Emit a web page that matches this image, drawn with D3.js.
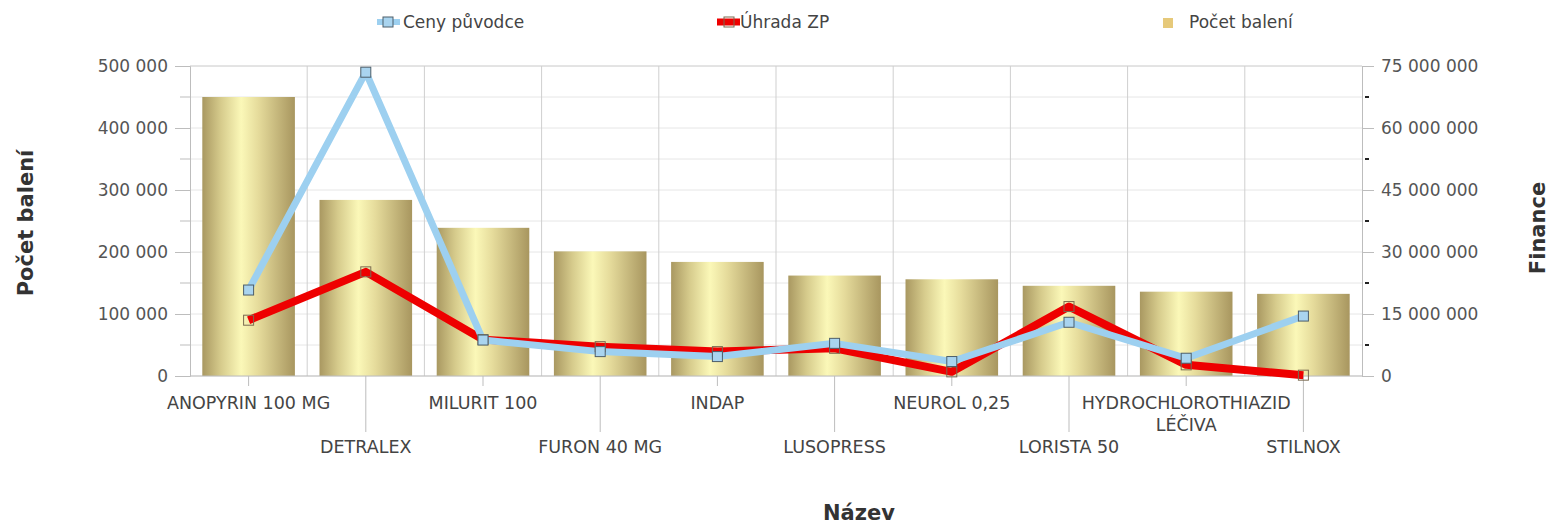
<!DOCTYPE html>
<html><head><meta charset="utf-8">
<script src="https://cdn.jsdelivr.net/npm/d3@7"></script>
<style>html,body{margin:0;padding:0;background:#fff;overflow:hidden}svg{display:block}text{font-family:"DejaVu Sans",sans-serif}</style>
</head><body><svg id="c" width="1551" height="526"></svg>
<script>
const categories = ["ANOPYRIN 100 MG","DETRALEX","MILURIT 100","FURON 40 MG","INDAP","LUSOPRESS","NEUROL 0,25","LORISTA 50","HYDROCHLOROTHIAZID LÉČIVA","STILNOX"];
const pocetBaleni = [450000,284000,239000,201000,184000,162000,156000,145500,136000,132500];
const cenyPuvodce = [20800000,73500000,8700000,5900000,4700000,7900000,3500000,13000000,4300000,14500000];
const uhradaZP = [13500000,25200000,8800000,7100000,5900000,6700000,1000000,16800000,2700000,200000];
const leftTicks = [0,100000,200000,300000,400000,500000];
const rightTicks = [0,15000000,30000000,45000000,60000000,75000000];
const seriesNames = ["Ceny původce","Úhrada ZP","Počet balení"];

const svg = d3.select("#c");
const L=190,R=1362,T=66,B=376;
const FS = 17, FX = 17.5;
const x = d3.scaleBand().domain(categories).range([L,R]).paddingInner(0.21).paddingOuter(0.105);
const xc = d => x(d)+x.bandwidth()/2;
const yL = d3.scaleLinear().domain([0,500000]).range([B,T]);
const yR = d3.scaleLinear().domain([0,75000000]).range([B,T]);
const fmt = v => d3.format(",")(v).replace(/,/g," ");

// gradient
const defs = svg.append("defs");
const g = defs.append("linearGradient").attr("id","gold").attr("x1","0").attr("x2","1").attr("y1","0").attr("y2","0");
[[0,"#a99861"],[0.2,"#d6cb8c"],[0.42,"#fbf8b8"],[0.6,"#e6dc9c"],[1,"#a8965f"]].forEach(s=>g.append("stop").attr("offset",s[0]).attr("stop-color",s[1]));

// horizontal gridlines (every 50 000)
const minor = d3.range(0,500001,50000);
svg.append("g").selectAll("line").data(minor).join("line")
  .attr("x1",L).attr("x2",R).attr("y1",d=>yL(d)).attr("y2",d=>yL(d))
  .attr("stroke",d=>d===500000?"#c8c8c8":"#e6e6e6").attr("stroke-width",1);
// vertical gridlines between categories
const step = x.step();
svg.append("g").selectAll("line").data(categories.slice(1)).join("line")
  .attr("x1",d=>x(d)-x.paddingInner()*step/2).attr("x2",d=>x(d)-x.paddingInner()*step/2)
  .attr("y1",T).attr("y2",B).attr("stroke","#cfcfcf");

// bars
svg.append("g").selectAll("rect").data(categories).join("rect")
  .attr("x",d=>x(d)).attr("width",x.bandwidth())
  .attr("y",(d,i)=>yL(pocetBaleni[i])).attr("height",(d,i)=>B-yL(pocetBaleni[i]))
  .attr("fill","url(#gold)");

// left axis
const la = svg.append("g").attr("transform",`translate(${L},0)`)
  .call(d3.axisLeft(yL).tickValues(leftTicks).tickFormat(fmt).tickSize(15).tickPadding(7));
la.select(".domain").attr("stroke","#bdbdbd");
la.selectAll(".tick line").attr("stroke","#bdbdbd");
la.selectAll("text").attr("fill","#555").attr("font-size",FS).attr("font-family","DejaVu Sans");
svg.append("g").selectAll("line").data(minor.filter(v=>v%100000)).join("line")
  .attr("x1",L-10).attr("x2",L).attr("y1",d=>yL(d)).attr("y2",d=>yL(d)).attr("stroke","#bdbdbd");

// right axis
const ra = svg.append("g").attr("transform",`translate(${R},0)`)
  .call(d3.axisRight(yR).tickValues(rightTicks).tickFormat(fmt).tickSize(12).tickPadding(7));
ra.select(".domain").attr("stroke","#bdbdbd");
ra.selectAll(".tick line").attr("stroke","#bdbdbd");
ra.selectAll("text").attr("fill","#555").attr("font-size",FS).attr("font-family","DejaVu Sans");
svg.append("g").selectAll("line").data(d3.range(7500000,75000000,15000000)).join("line")
  .attr("x1",R+3).attr("x2",R+7).attr("y1",d=>yR(d)).attr("y2",d=>yR(d)).attr("stroke","#222").attr("stroke-width",2);

// bottom axis line
svg.append("line").attr("x1",L).attr("x2",R).attr("y1",B).attr("y2",B).attr("stroke","#bdbdbd");

// x ticks & labels (staggered)
const xg = svg.append("g");
categories.forEach((c,i)=>{
  const cx = xc(c);
  const low = i%2===1;
  xg.append("line").attr("x1",cx).attr("x2",cx).attr("y1",B).attr("y2",low?432:386).attr("stroke","#bdbdbd");
  const t = xg.append("text").attr("x",cx).attr("text-anchor","middle").attr("fill","#444").attr("font-size",FX);
  const parts = c==="HYDROCHLOROTHIAZID LÉČIVA" ? ["HYDROCHLOROTHIAZID","LÉČIVA"] : [c];
  parts.forEach((p,k)=>t.append("tspan").attr("x",cx).attr("y",(low?453:409)+k*22).text(p));
});

// lines
const line = () => d3.line().x((d,i)=>xc(categories[i])).y(d=>yR(d));
svg.append("path").datum(uhradaZP).attr("d",line()).attr("fill","none").attr("stroke","#ee0000").attr("stroke-width",8).attr("stroke-linejoin","round");
svg.append("path").datum(cenyPuvodce).attr("d",line()).attr("fill","none").attr("stroke","#9dd0f0").attr("stroke-width",7).attr("stroke-linejoin","round");
svg.append("g").selectAll("rect").data(uhradaZP).join("rect")
  .attr("x",(d,i)=>xc(categories[i])-5).attr("y",d=>yR(d)-5).attr("width",10).attr("height",10)
  .attr("fill","none").attr("stroke","#7a6a50").attr("stroke-width",1);
svg.append("g").selectAll("rect").data(cenyPuvodce).join("rect")
  .attr("x",(d,i)=>xc(categories[i])-5).attr("y",d=>yR(d)-5).attr("width",10).attr("height",10)
  .attr("fill","#a9d4ef").attr("stroke","#4d5e6a").attr("stroke-width",1);

// legend
const lg = svg.append("g").attr("font-size",FS);
lg.append("line").attr("x1",377).attr("x2",400).attr("y1",22).attr("y2",22).attr("stroke","#9dd0f0").attr("stroke-width",6);
lg.append("rect").attr("x",383).attr("y",17).attr("width",10).attr("height",10).attr("fill","#a9d4ef").attr("stroke","#4d5e6a");
lg.append("text").attr("x",403).attr("y",28).attr("fill","#444").text(seriesNames[0]);
lg.append("line").attr("x1",717).attr("x2",740).attr("y1",22).attr("y2",22).attr("stroke","#ee0000").attr("stroke-width",7);
lg.append("rect").attr("x",724).attr("y",17).attr("width",10).attr("height",10).attr("fill","none").attr("stroke","#7a6a50");
lg.append("text").attr("x",740).attr("y",28).attr("fill","#444").text(seriesNames[1]);
lg.append("rect").attr("x",1163).attr("y",18).attr("width",10).attr("height",10).attr("fill","#e6c97a");
lg.append("text").attr("x",1189).attr("y",28).attr("fill","#444").text(seriesNames[2]);

// axis titles
svg.append("text").attr("transform","translate(33,223) rotate(-90)").attr("text-anchor","middle")
  .attr("font-size",21).attr("font-weight","bold").attr("fill","#333").text("Počet balení");
svg.append("text").attr("transform","translate(1545,228) rotate(-90)").attr("text-anchor","middle")
  .attr("font-size",21).attr("font-weight","bold").attr("fill","#333").text("Finance");
svg.append("text").attr("x",859).attr("y",520).attr("text-anchor","middle")
  .attr("font-size",21).attr("font-weight","bold").attr("fill","#333").text("Název");
</script></body></html>
